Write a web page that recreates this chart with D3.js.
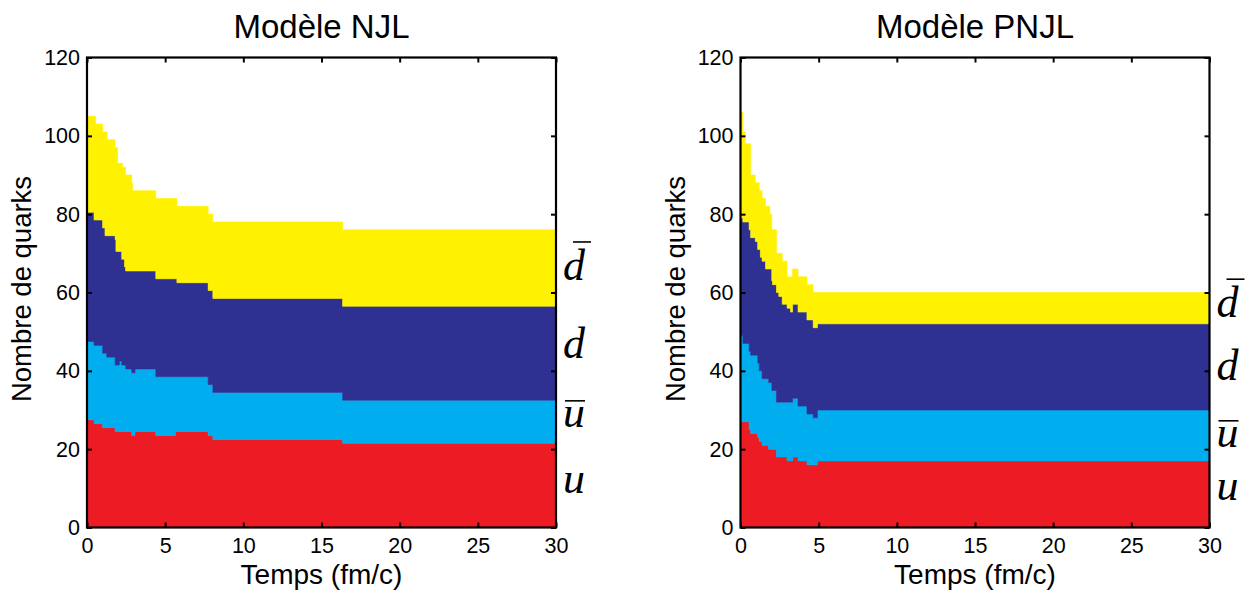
<!DOCTYPE html>
<html lang="fr">
<head>
<meta charset="UTF-8">
<title>Nombre de quarks - NJL / PNJL</title>
<script src="https://cdn.jsdelivr.net/npm/d3@7/dist/d3.min.js"></script>
<style>
  body { margin: 0; background: #fff; }
  text { font-family: "Liberation Sans", Arial, Helvetica, sans-serif; fill: #000; }
  .math { font-family: "Liberation Serif", "Times New Roman", serif; font-style: italic; }
</style>
</head>
<body>
<script>
// --- data ---
// modele NJL : instants de changement (fm/c) et nombre de quarks par espece
var njlTime = [0, 0.45, 0.55, 1.0, 1.15, 1.26, 1.3, 1.8, 1.85, 1.96, 2.07, 2.22, 2.28, 2.4, 2.47, 2.86, 2.92, 3.07, 4.4, 5.65, 5.75, 7.75, 8.05, 16.35];
var njlU    = [27.5, 26.5, 26.5, 25.5, 25.5, 25.5, 25.5, 24.5, 24.5, 24.5, 24.5, 24.5, 24.5, 24.5, 24.5, 23.5, 23.5, 24.5, 23.5, 24.5, 24.5, 23.5, 22.5, 21.5];
var njlUbar = [20, 20, 20, 19, 19, 18, 18, 17, 17, 17, 18, 17, 17, 17, 16, 16, 16, 16, 15, 14, 14, 13, 12, 11];
var njlD    = [33, 32, 32, 32, 30, 31, 31, 32, 29, 29, 28, 27, 27, 25, 25, 26, 26, 25, 25, 25, 24, 24, 24, 24];
var njlDbar = [24.5, 26.5, 24.5, 24.5, 26.5, 26.5, 24.5, 23.5, 26.5, 22.5, 22.5, 24.5, 23.5, 25.5, 24.5, 22.5, 20.5, 20.5, 20.5, 20.5, 19.5, 19.5, 19.5, 19.5];

// modele PNJL
var pnjlTime = [0, 0.15, 0.3, 0.55, 0.65, 0.95, 1.1, 1.2, 1.27, 1.38, 1.6, 1.8, 1.88, 2.0, 2.05, 2.3, 2.45, 2.67, 2.98, 3.2, 3.33, 3.68, 4.25, 4.65, 4.92];
var pnjlU    = [27, 27, 27, 25, 24, 24, 23, 22, 22, 21, 21, 20, 20, 20, 20, 18, 18, 18, 17, 17, 18, 17, 16, 16, 17];
var pnjlUbar = [22, 20, 20, 20, 20, 20, 19, 18, 18, 17, 17, 17, 17, 15, 15, 14, 14, 14, 15, 15, 15, 14, 13, 12, 13];
var pnjlD    = [30, 31, 31, 31, 30, 29, 29, 31, 29, 30, 28, 29, 29, 28, 27, 28, 27, 25, 24, 23, 24, 24, 24, 23, 22];
var pnjlDbar = [27, 23, 20, 22, 16, 15, 17, 15, 17, 16, 16, 16, 14, 13, 14, 10, 11, 11, 8, 9, 9, 9, 9, 9, 8];

var tEnd = 30;
var species = ["u", "ubar", "d", "dbar"];
var speciesColor = ["#ED1C24", "#00AEEF", "#2E3192", "#FFF200"];
var xTicks = [0, 5, 10, 15, 20, 25, 30];
var yTicks = [0, 20, 40, 60, 80, 100, 120];
// hauteur (en nombre de quarks) de la ligne de base des etiquettes u, ubar, d, dbar
var njlLabelY  = [8.8, 25.7, 43.3, 63.2];
var pnjlLabelY = [7.0, 20.6, 37.7, 53.7];

// --- canvas ---
var width = 1253, height = 590;
var svg = d3.select("body").append("svg")
    .attr("width", width)
    .attr("height", height);

function buildRows(time, u, ubar, d, dbar) {
    var rows = time.map(function (t, i) {
        return { t: t, u: u[i], ubar: ubar[i], d: d[i], dbar: dbar[i] };
    });
    var last = rows[rows.length - 1];
    rows.push({ t: tEnd, u: last.u, ubar: last.ubar, d: last.d, dbar: last.dbar });
    return rows;
}

function drawPanel(left, title, rows, labelY) {
    var plotW = 469, top = 57.5, bottom = 527.5;
    var x = d3.scaleLinear().domain([0, 30]).range([left, left + plotW]);
    var y = d3.scaleLinear().domain([0, 120]).range([bottom, top]);
    var g = svg.append("g");

    var stack = d3.stack().keys(species);
    var layers = stack(rows);

    var area = d3.area()
        .curve(d3.curveStepAfter)
        .x(function (d) { return x(d.data.t); })
        .y0(function (d) { return y(d[0]); })
        .y1(function (d) { return y(d[1]); });

    g.selectAll("path.layer")
        .data(layers)
        .enter()
        .append("path")
        .attr("class", "layer")
        .attr("d", area)
        .attr("fill", function (d, i) { return speciesColor[i]; })
        .attr("stroke", function (d, i) { return speciesColor[i]; })
        .attr("stroke-width", 0.6);

    // axes, ticks vers l'interieur sur les quatre cotes
    var tickLen = 5;
    g.append("g")
        .attr("transform", "translate(0," + bottom + ")")
        .call(d3.axisBottom(x).tickValues(xTicks).tickSize(-tickLen).tickPadding(10).tickFormat(d3.format("d")));
    g.append("g")
        .attr("transform", "translate(0," + top + ")")
        .call(d3.axisTop(x).tickValues(xTicks).tickSize(-tickLen).tickFormat(""));
    g.append("g")
        .attr("transform", "translate(" + left + ",0)")
        .call(d3.axisLeft(y).tickValues(yTicks).tickSize(-tickLen).tickPadding(7).tickFormat(d3.format("d")));
    g.append("g")
        .attr("transform", "translate(" + (left + plotW) + ",0)")
        .call(d3.axisRight(y).tickValues(yTicks).tickSize(-tickLen).tickFormat(""));

    g.selectAll(".domain").remove();
    g.selectAll(".tick line").attr("stroke", "#000").attr("stroke-width", 2);
    g.selectAll(".tick text").style("font-size", "21.5px").attr("fill", "#000");

    g.append("rect")
        .attr("x", left).attr("y", top)
        .attr("width", plotW).attr("height", bottom - top)
        .attr("fill", "none")
        .attr("stroke", "#000")
        .attr("stroke-width", 2.2);

    // titres
    g.append("text")
        .attr("x", left + plotW / 2).attr("y", 38)
        .attr("text-anchor", "middle")
        .style("font-size", "33px")
        .text(title);
    g.append("text")
        .attr("x", left + plotW / 2).attr("y", 584)
        .attr("text-anchor", "middle")
        .style("font-size", "28px")
        .text("Temps (fm/c)");
    g.append("text")
        .attr("transform", "translate(" + (left - 56) + ",289) rotate(-90)")
        .attr("text-anchor", "middle")
        .style("font-size", "27.5px")
        .text("Nombre de quarks");

    // etiquettes u, ubar, d, dbar
    var names = ["u", "u", "d", "d"];
    var hasBar = [false, true, false, true];
    var lx = left + plotW + 7;
    names.forEach(function (n, i) {
        var by = y(labelY[i]);
        g.append("text")
            .attr("class", "math")
            .attr("x", lx).attr("y", by)
            .style("font-size", "44px")
            .text(n);
        if (hasBar[i]) {
            var x1 = n === "d" ? lx + 10 : lx + 2;
            var x2 = n === "d" ? lx + 28 : lx + 22;
            var yb = n === "d" ? by - 38 : by - 26;
            g.append("line")
                .attr("x1", x1).attr("x2", x2)
                .attr("y1", yb).attr("y2", yb)
                .attr("stroke", "#000").attr("stroke-width", 1.6);
        }
    });
}

drawPanel(87, "Modèle NJL", buildRows(njlTime, njlU, njlUbar, njlD, njlDbar), njlLabelY);
drawPanel(740.5, "Modèle PNJL", buildRows(pnjlTime, pnjlU, pnjlUbar, pnjlD, pnjlDbar), pnjlLabelY);
</script>
</body>
</html>
